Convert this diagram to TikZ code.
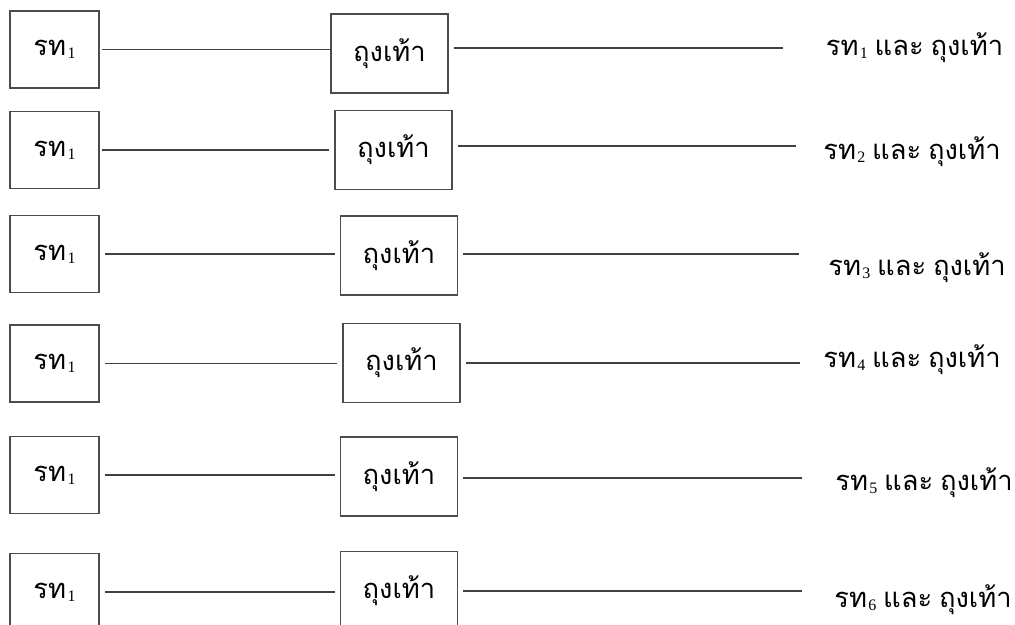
\documentclass[tikz,border=0pt]{standalone}
\usepackage{fontspec}
\setmainfont{Liberation Serif}
\newfontfamily\thaifont[Script=Thai]{Loma}
\usetikzlibrary{positioning}
\tikzset{
  unitbox/.style={draw=black!70, line width=0.8pt, minimum width=66.75pt,
    minimum height=57.75pt, inner sep=0pt, font=\fontsize{20.5}{24}\selectfont},
  itembox/.style={unitbox, minimum width=87.75pt, minimum height=59.25pt},
  link/.style={draw=black!75, line width=0.8pt},
  result/.style={font=\fontsize{20.5}{24}\selectfont, inner sep=0pt},
}
\newcommand{\rtsub}[1]{{\thaifont รท}\kern1pt{\fontsize{12}{13}\selectfont\raisebox{-0.4ex}{#1}}}
\newcommand{\sock}{{\thaifont ถุงเท้า}}
\newcommand{\andword}{{\thaifont และ}}

\begin{document}
\begin{tikzpicture}[x=0.75pt, y=-0.75pt]
  \useasboundingbox (0,0) rectangle (1015,625);
  \clip (0,0) rectangle (1015,625);

  % Row 1
  \node[unitbox] (l1) at (54.5,49.5) {\rtsub{1}};
  \node[itembox] (m1) at (389.5,53.5) {\sock};
  \coordinate (e1) at (783,48);
  \node[result] (r1) at (914.5,48) {\rtsub{1} \andword{} \sock};
  \draw[link] ([xshift=2pt]l1.east) -- (l1.east -| m1.west);
  \draw[link] ([xshift=4pt]m1.east |- e1) -- (e1);

  % Row 2
  \node[unitbox] (l2) at (54.5,150) {\rtsub{1}};
  \node[itembox] (m2) at (393.5,150) {\sock};
  \coordinate (e2) at (796,146);
  \node[result] (r2) at (912,152) {\rtsub{2} \andword{} \sock};
  \draw[link] ([xshift=2pt]l2.east) -- ([xshift=-4pt]l2.east -| m2.west);
  \draw[link] ([xshift=4pt]m2.east |- e2) -- (e2);

  % Row 3
  \node[unitbox] (l3) at (54.5,254) {\rtsub{1}};
  \node[itembox] (m3) at (399,255.5) {\sock};
  \coordinate (e3) at (799,254);
  \node[result] (r3) at (917,268) {\rtsub{3} \andword{} \sock};
  \draw[link] ([xshift=4pt]l3.east) -- ([xshift=-4pt]l3.east -| m3.west);
  \draw[link] ([xshift=4pt]m3.east |- e3) -- (e3);

  % Row 4
  \node[unitbox] (l4) at (54.5,363.5) {\rtsub{1}};
  \node[itembox] (m4) at (401.5,363) {\sock};
  \coordinate (e4) at (800,363);
  \node[result] (r4) at (912,360) {\rtsub{4} \andword{} \sock};
  \draw[link] ([xshift=4pt]l4.east) -- ([xshift=-4pt]l4.east -| m4.west);
  \draw[link] ([xshift=4pt]m4.east |- e4) -- (e4);

  % Row 5
  \node[unitbox] (l5) at (54.5,475) {\rtsub{1}};
  \node[itembox] (m5) at (399,476.5) {\sock};
  \coordinate (e5) at (802,478);
  \node[result] (r5) at (924,483) {\rtsub{5} \andword{} \sock};
  \draw[link] ([xshift=4pt]l5.east) -- ([xshift=-4pt]l5.east -| m5.west);
  \draw[link] ([xshift=4pt]m5.east |- e5) -- (e5);

  % Row 6
  \node[unitbox] (l6) at (54.5,592) {\rtsub{1}};
  \node[itembox] (m6) at (399,591) {\sock};
  \coordinate (e6) at (802,591);
  \node[result] (r6) at (923,600) {\rtsub{6} \andword{} \sock};
  \draw[link] ([xshift=4pt]l6.east) -- ([xshift=-4pt]l6.east -| m6.west);
  \draw[link] ([xshift=4pt]m6.east |- e6) -- (e6);
\end{tikzpicture}
\end{document}
